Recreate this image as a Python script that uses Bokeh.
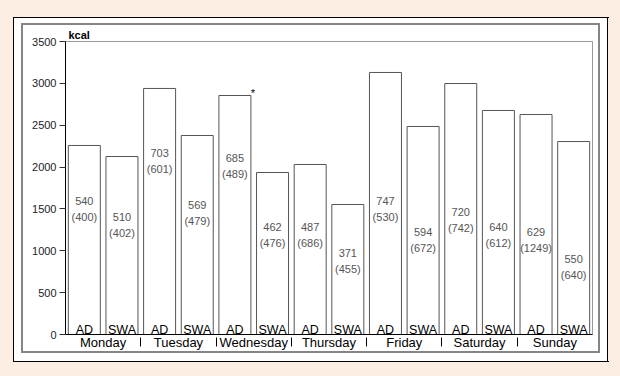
from bokeh.plotting import figure
from bokeh.models import FactorRange, Range1d, ColumnDataSource, FixedTicker
from bokeh.core.properties import value
from bokeh.embed import file_html
from bokeh.resources import INLINE

# ---------------- data ----------------
days = ["Monday", "Tuesday", "Wednesday", "Thursday", "Friday", "Saturday", "Sunday"]
groups = ["AD", "SWA"]
energy = [2258, 2126, 2939, 2377, 2855, 1935, 2031, 1553, 3130, 2485, 2998, 2676, 2628, 2305]
sd_top = [540, 510, 703, 569, 685, 462, 487, 371, 747, 594, 720, 640, 629, 550]
sd_bottom = [400, 402, 601, 479, 489, 476, 686, 455, 530, 672, 742, 612, 1249, 640]
significance = ["", "", "", "", "*", "", "", "", "", "", "", "", "", ""]
# heights (kcal) where the paired numbers sit inside each bar
label_y = [1499, 1308, 2072, 1451, 2013, 1189, 1189, 878, 1499, 1129, 1368, 1189, 1129, 806]
y_ticks = [0, 500, 1000, 1500, 2000, 2500, 3000, 3500]
unit = "kcal"

factors = [(d, g) for d in days for g in groups]
src = ColumnDataSource(dict(
    x=factors,
    top=energy,
    grp=[g for _, g in factors],
    txt=[f"{a}\n({b})" for a, b in zip(sd_top, sd_bottom)],
    ly=label_y,
    sig=significance,
))

FONT = "Liberation Sans"
PEACH = "#fdeee4"

# page decoration: peach page, white panel with black border and grey inner border
rects = [  # (color, x, y, w, h) in px
    ("#858585", 21, 23, 579, 2), ("#858585", 21, 351, 579, 2),
    ("#858585", 21, 23, 2, 330), ("#858585", 598, 23, 2, 330),
    ("#000000", 13, 17, 596, 1), ("#000000", 13, 361, 596, 1),
    ("#000000", 13, 17, 1, 345), ("#000000", 607, 17, 1, 345),
    ("#ffffff", 13, 17, 595, 345),
]
styles = {
    "background-color": PEACH,
    "background-image": ", ".join(f"linear-gradient({c}, {c})" for c, *_ in rects),
    "background-position": ", ".join(f"{x}px {y}px" for _, x, y, _w, _h in rects),
    "background-size": ", ".join(f"{w}px {h}px" for *_, w, h in rects),
    "background-repeat": "no-repeat",
}

p = figure(width=620, height=376,
           x_range=FactorRange(*factors, group_padding=0, factor_padding=0, range_padding=0),
           y_range=Range1d(0, 3500),
           output_backend="svg", toolbar_location=None,
           min_border_left=65, min_border_right=28, min_border_top=41, min_border_bottom=42,
           styles=styles)

p.border_fill_color = None
p.background_fill_color = "white"
p.outline_line_color = "#999999"
p.outline_line_width = 1
p.grid.visible = False

# unit label above the y axis
p.title.text = unit
p.title.align = "left"
p.title.offset = 3
p.title.standoff = 1
p.title.text_font = FONT
p.title.text_font_size = "11px"
p.title.text_font_style = "bold"
p.title.text_color = "black"

p.vbar(x="x", top="top", width=0.85, source=src,
       fill_color="white", line_color="#555555", line_width=1)

p.text(x="x", y="ly", text="txt", source=src,
       text_font=value(FONT), text_font_size="11px", text_color="#555555",
       text_align="center", text_baseline="middle", text_line_height=1.4)

p.text(x="x", y=0, text="grp", source=src, y_offset=-5,
       text_font=value(FONT), text_font_size="12.5px", text_color="black",
       text_align="center", text_baseline="alphabetic")

p.text(x="x", y="top", text="sig", source=src, x_offset=18, y_offset=-2,
       text_font=value(FONT), text_font_size="11px", text_color="black",
       text_align="center", text_baseline="middle")

# y axis
ya = p.yaxis[0]
ya.ticker = FixedTicker(ticks=y_ticks)
ya.minor_tick_line_color = None
ya.major_tick_in = 0
ya.major_tick_out = 6
ya.major_label_standoff = 3
ya.axis_line_color = "black"
ya.major_tick_line_color = "#333333"
ya.major_label_text_font = FONT
ya.major_label_text_font_size = "11px"
ya.major_label_text_color = "#222222"

# x axis: only the day groups below the axis (AD/SWA are drawn inside the bars)
xa = p.xaxis[0]
xa.major_label_text_font_size = "0px"
xa.major_label_text_color = None
xa.major_tick_line_color = None
xa.major_tick_in = 0
xa.major_tick_out = 0
xa.major_label_standoff = 0
xa.axis_line_color = "black"
xa.group_text_font = FONT
xa.group_text_font_size = "13px"
xa.group_text_color = "black"
xa.group_text_font_style = "normal"
xa.separator_line_color = "black"
xa.separator_line_width = 1

open("out.html", "w").write(file_html(p, INLINE))
